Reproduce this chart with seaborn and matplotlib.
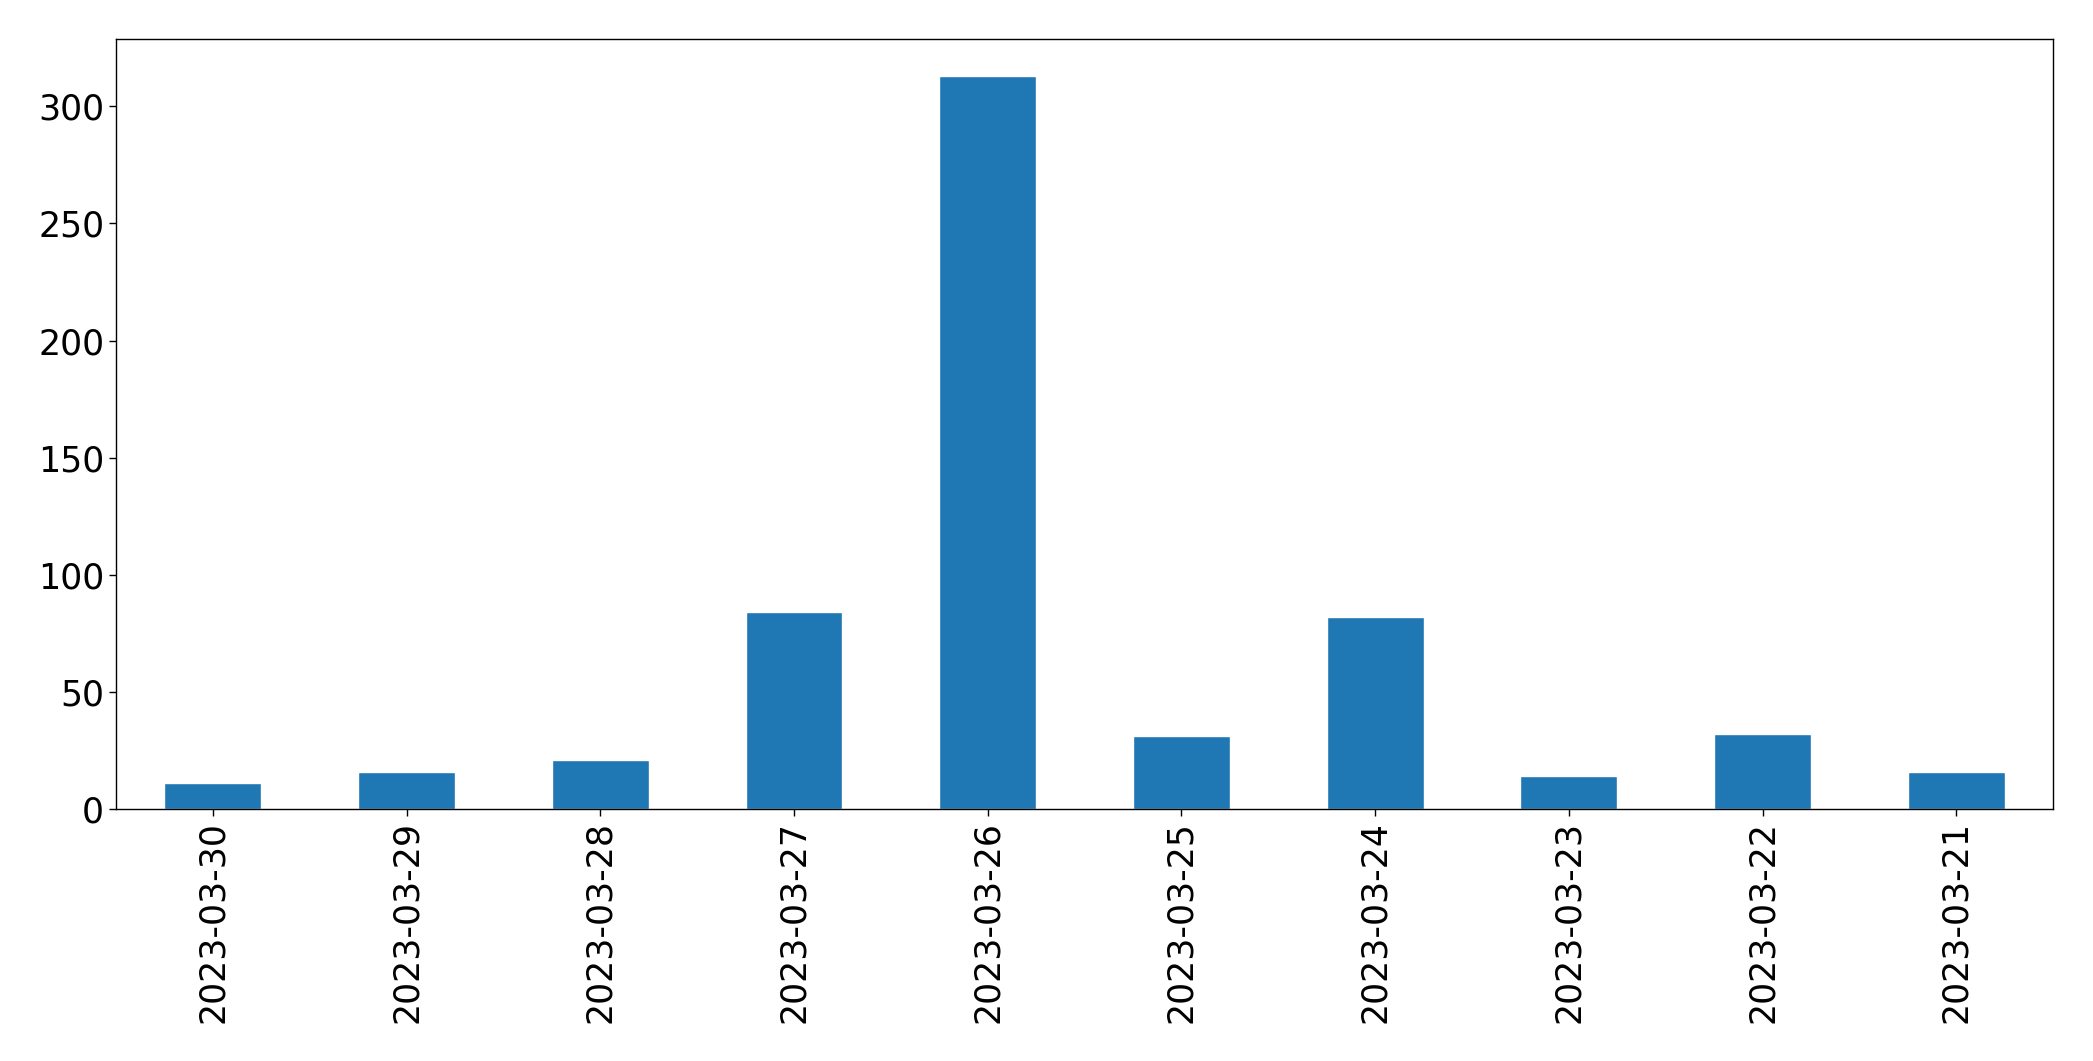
import matplotlib
matplotlib.use("Agg")
import matplotlib.pyplot as plt
import seaborn as sns
import pandas as pd

# daily counts, newest first as in the source
dates = ["2023-03-30", "2023-03-29", "2023-03-28", "2023-03-27", "2023-03-26",
         "2023-03-25", "2023-03-24", "2023-03-23", "2023-03-22", "2023-03-21"]
counts = [11, 16, 21, 84, 313, 31, 82, 14, 32, 16]

sns.set_theme(style="white")
plt.rcParams["font.family"] = ["DejaVu Sans"]
plt.rcParams.update({
    "text.color": "black",
    "xtick.color": "black",
    "ytick.color": "black",
    "axes.edgecolor": "black",
})

df = pd.DataFrame({"date": dates, "count": counts})

fig, ax = plt.subplots(figsize=(20.93, 10.61), dpi=100)
sns.barplot(data=df, x="date", y="count", order=dates, color="#1f77b4",
            saturation=1, width=0.5, ax=ax)

ax.set_xlim(-0.5, len(dates) - 0.5)
ax.set_ylim(0, max(counts) * 1.05)
ax.set_xlabel("")
ax.set_ylabel("")
ax.tick_params(axis="both", labelsize=25, length=5, width=1, bottom=True, left=True,
               colors="black")
plt.xticks(rotation=90)
for spine in ax.spines.values():
    spine.set_color("black")
    spine.set_linewidth(1)

plt.subplots_adjust(left=0.0554, right=0.981, top=0.963, bottom=0.2375)
plt.savefig("out.png", dpi=100)
plt.close()
